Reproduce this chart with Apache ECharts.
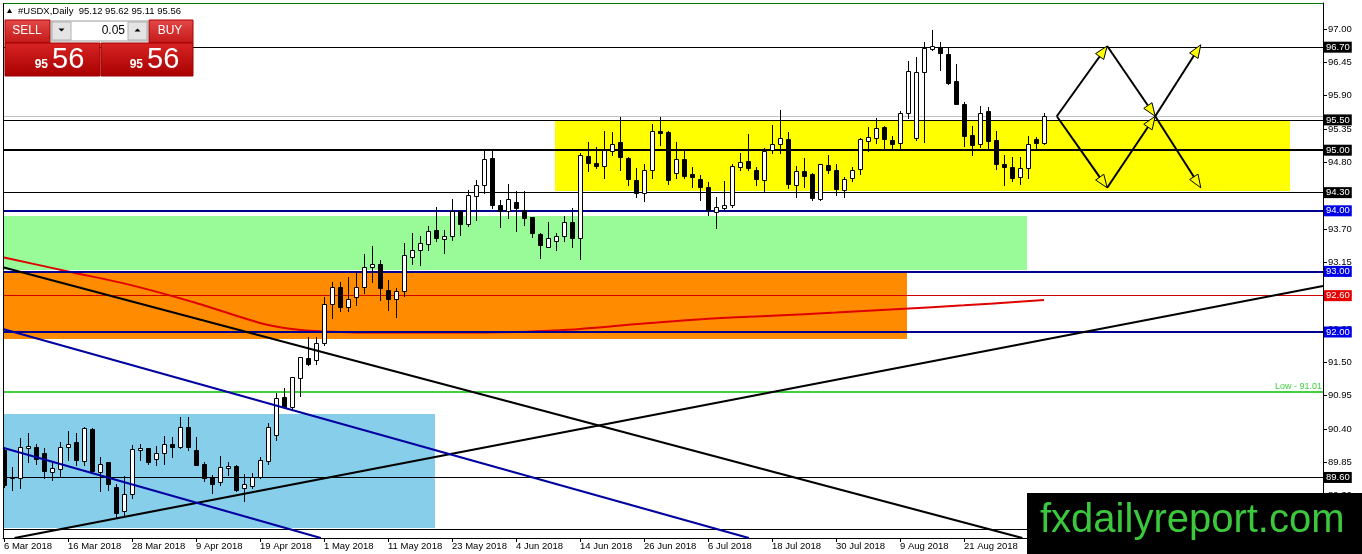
<!DOCTYPE html>
<html><head><meta charset="utf-8">
<script src="https://cdn.jsdelivr.net/npm/echarts@6.0.0/dist/echarts.min.js"></script>
<style>html,body{margin:0;padding:0;background:#fff;overflow:hidden}#chart{width:1362px;height:554px}</style>
</head><body><div id="chart"></div>
<script>
// ---- Daily bars (#USDX), one per trading day starting 6 Mar 2018 ----
const opens = [90.05,89.59,89.59,90.09,90.10,90.00,89.69,89.74,90.11,90.18,
89.87,90.40,89.69,89.85,89.45,89.04,89.32,90.06,90.08,89.90,
90.01,90.16,90.11,90.44,90.05,89.83,89.61,89.52,89.76,89.79,
89.42,89.46,89.61,89.87,90.30,90.92,90.77,91.24,91.57,91.53,
91.82,92.46,92.75,92.42,92.58,92.75,93.08,93.12,92.70,92.54,
92.68,93.24,93.36,93.46,93.68,93.53,93.58,94.00,93.78,94.25,
94.43,94.87,94.10,93.99,94.15,94.01,93.89,93.62,93.41,93.50,
93.58,93.81,93.55,94.90,94.79,94.74,94.98,95.13,94.87,94.51,
94.30,94.68,95.32,95.30,94.62,94.85,94.61,94.53,94.39,93.98,
94.05,94.10,94.72,94.82,94.68,94.51,95.00,95.11,95.18,94.43,
94.66,94.61,94.19,94.75,94.67,94.34,94.54,94.69,95.16,95.20,
95.38,95.17,95.12,95.62,95.20,96.29,96.67,96.71,96.59,96.14,
95.76,95.25,95.11,95.65,95.17,94.78,94.72,94.55,94.70,95.19,
95.12];
const highs = [90.10,89.78,90.25,90.34,90.16,90.08,89.86,90.19,90.37,90.34,
90.44,90.41,89.94,89.86,89.50,89.63,90.14,90.16,90.09,90.12,
90.29,90.26,90.59,90.59,90.27,89.86,89.64,89.95,89.86,89.80,
89.65,89.67,89.94,90.50,91.00,91.07,91.26,91.59,91.92,91.92,
92.58,92.83,92.83,92.91,92.97,93.29,93.42,93.19,92.85,92.72,
93.47,93.63,93.58,93.75,94.06,93.68,94.19,94.01,94.34,94.51,
95.00,95.00,94.18,94.45,94.32,94.32,93.90,93.64,93.82,93.64,
93.91,94.05,94.95,95.14,95.06,95.32,95.30,95.55,94.89,94.70,
94.78,95.43,95.55,95.31,95.14,94.98,94.73,94.59,94.48,94.22,
94.50,94.78,94.95,95.27,94.73,95.03,95.42,95.66,95.30,94.74,
94.87,94.62,94.78,94.92,94.77,94.56,94.72,95.20,95.38,95.53,
95.40,95.23,95.64,96.48,96.53,96.79,96.99,96.78,96.68,96.42,
95.80,95.40,95.73,95.71,95.32,94.92,94.89,94.89,95.23,95.22,
95.62];
const lows = [89.45,89.40,89.42,89.86,89.83,89.59,89.56,89.61,89.89,89.80,
89.81,89.67,89.38,89.39,88.95,88.95,89.26,89.89,89.83,89.81,
89.83,89.94,90.08,90.05,89.80,89.54,89.34,89.48,89.64,89.37,
89.21,89.42,89.59,89.83,90.22,90.74,90.74,90.94,91.46,91.48,
91.79,92.23,92.34,92.34,92.45,92.64,92.83,92.53,92.36,92.25,
92.59,93.13,93.11,93.35,93.51,93.30,93.52,93.60,93.75,93.85,
94.29,94.04,93.73,93.88,93.66,93.77,93.57,93.22,93.40,93.35,
93.50,93.40,93.20,94.65,94.70,94.54,94.92,94.67,94.43,94.22,
94.17,94.54,95.08,94.45,94.54,94.54,94.39,94.18,93.93,93.71,
94.01,94.07,94.67,94.67,94.43,94.32,94.96,94.95,94.37,94.23,
94.40,94.18,94.18,94.63,94.26,94.22,94.50,94.61,94.98,95.12,
95.03,95.00,95.03,95.53,95.17,95.14,96.65,96.32,96.10,95.76,
95.07,94.92,95.05,95.03,94.69,94.43,94.50,94.45,94.54,95.03,
95.11];
const closes = [89.48,89.60,90.11,90.12,89.90,89.70,89.75,90.11,90.16,89.89,
90.41,89.70,89.83,89.49,89.01,89.33,90.07,90.08,89.86,90.01,
90.16,90.11,90.43,90.11,89.81,89.59,89.50,89.77,89.79,89.40,
89.49,89.60,89.88,90.43,90.91,90.77,91.25,91.58,91.48,91.82,
92.46,92.74,92.42,92.55,92.75,93.07,93.12,92.72,92.55,92.67,
93.27,93.36,93.47,93.67,93.55,93.59,94.00,93.78,94.26,94.43,
94.85,94.10,93.99,94.19,94.04,93.88,93.63,93.44,93.55,93.58,
93.82,93.55,94.92,94.79,94.74,95.00,95.11,94.88,94.53,94.29,
94.67,95.32,95.28,94.51,94.85,94.57,94.55,94.39,94.02,94.07,
94.10,94.74,94.80,94.70,94.52,94.99,95.11,95.20,94.45,94.65,
94.58,94.21,94.77,94.67,94.36,94.52,94.68,95.18,95.21,95.36,
95.18,95.11,95.61,96.31,96.29,96.68,96.72,96.60,96.11,95.77,
95.24,95.09,95.62,95.16,94.77,94.73,94.54,94.70,95.11,95.12,
95.56];

// ---- Moving average (red curve): [bar index, value] ----
const maBars   = [0, 8, 16, 24, 32, 36, 40, 48, 56, 64, 68, 72, 80, 88, 96, 104, 112, 120, 130];
const maValues = [93.23, 93.00, 92.77, 92.48, 92.15, 92.05, 92.01, 91.99, 91.99, 92.00, 92.02, 92.05, 92.14, 92.22, 92.27, 92.32, 92.38, 92.44, 92.53];

// ---- Axis ticks ----
const xTickBars   = [0, 8, 16, 24, 32, 40, 48, 56, 64, 72, 80, 88, 96, 104, 112, 120];
const xTickLabels = ['6 Mar 2018','16 Mar 2018','28 Mar 2018','9 Apr 2018','19 Apr 2018','1 May 2018','11 May 2018','23 May 2018','4 Jun 2018','14 Jun 2018','26 Jun 2018','6 Jul 2018','18 Jul 2018','30 Jul 2018','9 Aug 2018','21 Aug 2018'];
const yTickValues = [97.00, 96.45, 95.90, 95.35, 94.80, 94.25, 93.70, 93.15, 92.60, 92.05, 91.50, 90.95, 90.40, 89.85, 89.30];

// ---- Horizontal price levels ----
const levelValues = [96.70, 95.56, 95.50, 95.00, 94.30, 94.00, 93.00, 92.60, 92.00, 91.01, 89.60, 88.75];
const levelLabels = ['96.70', '', '95.50', '95.00', '94.30', '94.00', '93.00', '92.60', '92.00', 'Low - 91.01', '89.60', '88.75'];
const levelKinds  = ['black', 'bid', 'black', 'blackBold', 'black', 'blue', 'blue', 'red', 'blue', 'green', 'black', 'black'];

// ---- Rectangles (zones): bar-index span and price span ----
const zoneColors = ['#87ceeb', '#ff8c00', '#98fb98', '#ffff00'];
const zoneFrom   = [-0.125, -0.125, -0.125, 68.9];
const zoneTo     = [53.9, 112.9, 127.9, 160.75];
const zoneTop    = [90.65, 92.97, 93.92, 95.50];
const zoneBottom = [88.76, 91.88, 93.03, 94.32];

// ---- Trend lines: [bar, price] -> [bar, price] ----
const trendFrom  = [[-0.125, 93.07], [1.31, 88.60], [-0.125, 92.05], [-0.125, 90.09]];
const trendTo    = [[127.3, 88.60], [164.875, 92.76], [93.1, 88.60], [39.6, 88.60]];
const trendColor = ['#000000', '#000000', '#0000a0', '#0000a0'];

// ---- Scenario arrows: [bar, price] -> [bar, price] ----
const arrowFrom = [[131.6, 95.56], [137.9, 96.72], [143.9, 95.56], [131.6, 95.56], [137.9, 94.38], [143.9, 95.56]];
const arrowTo   = [[137.9, 96.72], [143.9, 95.56], [149.6, 96.74], [137.9, 94.38], [143.9, 95.56], [149.6, 94.38]];

const FONT = 'Liberation Sans';
const chart = echarts.init(document.getElementById('chart'), null, {renderer: 'canvas'});

const kindStyle = {
  black:     {line: {color: '#000000', width: 1}, bg: '#000000'},
  blackBold: {line: {color: '#000000', width: 2}, bg: '#000000'},
  bid:       {line: {color: '#c0c0c0', width: 1}, bg: null},
  blue:      {line: {color: '#000090', width: 2}, bg: '#0000e6'},
  red:       {line: {color: '#d00000', width: 1}, bg: '#e60000'},
  green:     {line: {color: '#40d040', width: 2}, bg: null}
};

const levelData = levelValues.map((v, k) => {
  const st = kindStyle[levelKinds[k]];
  let label;
  if (levelKinds[k] === 'green') {
    label = {show: true, position: 'insideEndTop', distance: 1, formatter: levelLabels[k], color: '#40d040', fontFamily: FONT, fontSize: 9};
  } else if (st.bg) {
    label = {show: true, position: 'end', distance: 1, formatter: levelLabels[k], color: '#ffffff', backgroundColor: st.bg, padding: [1, 2, 0, 2], fontFamily: FONT, fontSize: 9.5};
  } else {
    label = {show: false};
  }
  return {yAxis: v, lineStyle: {color: st.line.color, width: st.line.width, type: 'solid'}, label};
});

const candleData = opens.map((o, k) => [k, o, highs[k], lows[k], closes[k]]);
const zoneData = zoneColors.map((c, k) => [zoneFrom[k], zoneTop[k], zoneTo[k], zoneBottom[k], k]);
const trendData = trendFrom.map((p, k) => ({coords: [p, trendTo[k]], lineStyle: {color: trendColor[k]}}));
const arrowData = arrowFrom.map((p, k) => [p[0], p[1], arrowTo[k][0], arrowTo[k][1]]);
const maData = maBars.map((b, k) => [b, maValues[k]]);

const option = {
  animation: false,
  backgroundColor: '#ffffff',
  grid: {left: 3, right: 39, top: 3, bottom: 16, containLabel: false},
  xAxis: {
    type: 'value', min: -0.125, max: 164.875,
    splitLine: {show: false},
    axisLine: {show: true, onZero: false, lineStyle: {color: '#000', width: 1}},
    axisTick: {show: true, customValues: xTickBars, length: 4, lineStyle: {color: '#000'}},
    axisLabel: {show: true, customValues: xTickBars, align: 'left', margin: 3, color: '#000', fontFamily: FONT, fontSize: 9.5,
      formatter: v => xTickLabels[xTickBars.indexOf(Math.round(v))] || ''}
  },
  yAxis: {
    type: 'value', position: 'right', min: 88.601, max: 97.429, scale: true,
    splitLine: {show: false},
    axisLine: {show: true, onZero: false, lineStyle: {color: '#000', width: 1}},
    axisTick: {show: true, customValues: yTickValues, length: 4, lineStyle: {color: '#000'}},
    axisLabel: {show: true, customValues: yTickValues, margin: 5, color: '#000', fontFamily: FONT, fontSize: 9.5,
      formatter: v => v.toFixed(2)}
  },
  series: [
    { // zones
      type: 'custom', z: 1, silent: true, clip: true, data: zoneData,
      renderItem: (params, api) => {
        const p1 = api.coord([api.value(0), api.value(1)]);
        const p2 = api.coord([api.value(2), api.value(3)]);
        return {type: 'rect', shape: {x: Math.round(p1[0]), y: Math.round(p1[1]), width: Math.round(p2[0]) - Math.round(p1[0]), height: Math.round(p2[1]) - Math.round(p1[1])},
          style: {fill: zoneColors[api.value(4)]}};
      }
    },
    { // price levels
      type: 'line', z: 3, silent: true, data: [],
      markLine: {silent: true, symbol: ['none', 'none'], animation: false, data: levelData}
    },
    { // moving average
      type: 'line', z: 4, silent: true, data: maData, smooth: 0.4, showSymbol: false,
      lineStyle: {color: '#e00000', width: 2}
    },
    { // candles
      type: 'custom', z: 5, silent: true, clip: true, data: candleData,
      renderItem: (params, api) => {
        const i = api.value(0), o = api.value(1), h = api.value(2), l = api.value(3), c = api.value(4);
        const pO = api.coord([i, o]), pC = api.coord([i, c]), pH = api.coord([i, h]), pL = api.coord([i, l]);
        const x = Math.floor(pO[0]) + 0.5;
        const top = Math.round(Math.min(pO[1], pC[1])), bot = Math.round(Math.max(pO[1], pC[1]));
        const up = c >= o;
        return {type: 'group', children: [
          {type: 'line', shape: {x1: x, y1: Math.round(pH[1]), x2: x, y2: Math.round(pL[1]) + 1}, style: {stroke: '#000', lineWidth: 1}},
          {type: 'rect', shape: {x: x - 2, y: top + 0.5, width: 4, height: Math.max(1, bot - top)}, style: {fill: up ? '#fff' : '#000', stroke: '#000', lineWidth: 1}}
        ]};
      }
    },
    { // trend lines
      type: 'lines', coordinateSystem: 'cartesian2d', z: 6, silent: true, data: trendData,
      lineStyle: {width: 2, opacity: 1}
    },
    { // arrows
      type: 'custom', z: 7, silent: true, data: arrowData,
      renderItem: (params, api) => {
        const p1 = api.coord([api.value(0), api.value(1)]);
        const p2 = api.coord([api.value(2), api.value(3)]);
        const dx = p2[0] - p1[0], dy = p2[1] - p1[1];
        const len = Math.hypot(dx, dy), ux = dx / len, uy = dy / len;
        const L = 13, W = 5;
        const bx = p2[0] - ux * L, by = p2[1] - uy * L;
        return {type: 'group', children: [
          {type: 'line', shape: {x1: p1[0], y1: p1[1], x2: bx, y2: by}, style: {stroke: '#000', lineWidth: 2}},
          {type: 'polygon', shape: {points: [[p2[0], p2[1]], [bx - uy * W, by + ux * W], [bx + uy * W, by - ux * W]]}, style: {fill: '#ffff00', stroke: '#000', lineWidth: 1}}
        ]};
      }
    }
  ],
  graphic: [
    // frame top and left
    {type: 'line', z: 50, shape: {x1: 3, y1: 3.5, x2: 1323, y2: 3.5}, style: {stroke: '#007a00', lineWidth: 1}},
    {type: 'line', z: 50, shape: {x1: 3.5, y1: 3, x2: 3.5, y2: 538}, style: {stroke: '#000', lineWidth: 1}},
    // header
    {type: 'polygon', z: 60, shape: {points: [[7, 13], [12, 13], [9.5, 8.5]]}, style: {fill: '#000'}},
    {type: 'text', z: 60, x: 18, y: 11, style: {text: '#USDX,Daily  95.12 95.62 95.11 95.56', fill: '#000', font: '9.5px "Liberation Sans"', textVerticalAlign: 'middle'}},
    // one-click trading panel
    {type: 'rect', z: 60, shape: {x: 5, y: 20, width: 45, height: 23}, style: {fill: new echarts.graphic.LinearGradient(0, 0, 0, 1, [{offset: 0, color: '#e44848'}, {offset: 1, color: '#c41818'}]), stroke: '#b00000', lineWidth: 1}},
    {type: 'rect', z: 60, shape: {x: 149, y: 20, width: 44, height: 23}, style: {fill: new echarts.graphic.LinearGradient(0, 0, 0, 1, [{offset: 0, color: '#e44848'}, {offset: 1, color: '#c41818'}]), stroke: '#b00000', lineWidth: 1}},
    {type: 'rect', z: 60, shape: {x: 5, y: 43, width: 95, height: 33}, style: {fill: new echarts.graphic.LinearGradient(0, 0, 0, 1, [{offset: 0, color: '#d82424'}, {offset: 1, color: '#a80000'}]), stroke: '#a00000', lineWidth: 1}},
    {type: 'rect', z: 60, shape: {x: 101, y: 43, width: 92, height: 33}, style: {fill: new echarts.graphic.LinearGradient(0, 0, 0, 1, [{offset: 0, color: '#d82424'}, {offset: 1, color: '#a80000'}]), stroke: '#a00000', lineWidth: 1}},
    {type: 'rect', z: 60, shape: {x: 51, y: 21, width: 97, height: 20}, style: {fill: '#ffffff', stroke: '#9a9a9a', lineWidth: 1}},
    {type: 'rect', z: 61, shape: {x: 52, y: 22, width: 19, height: 18}, style: {fill: '#e4e4e4', stroke: '#b0b0b0', lineWidth: 1}},
    {type: 'rect', z: 61, shape: {x: 128, y: 22, width: 19, height: 18}, style: {fill: '#e4e4e4', stroke: '#b0b0b0', lineWidth: 1}},
    {type: 'polygon', z: 62, shape: {points: [[58.5, 28.5], [64.5, 28.5], [61.5, 31.5]]}, style: {fill: '#000'}},
    {type: 'polygon', z: 62, shape: {points: [[134.5, 31.5], [140.5, 31.5], [137.5, 28.5]]}, style: {fill: '#000'}},
    {type: 'text', z: 62, x: 125, y: 31, style: {text: '0.05', fill: '#000', font: '12px "Liberation Sans"', textAlign: 'right', textVerticalAlign: 'middle'}},
    {type: 'text', z: 62, x: 27, y: 31, style: {text: 'SELL', fill: '#fff', font: '12px "Liberation Sans"', textAlign: 'center', textVerticalAlign: 'middle'}},
    {type: 'text', z: 62, x: 170, y: 31, style: {text: 'BUY', fill: '#fff', font: '12px "Liberation Sans"', textAlign: 'center', textVerticalAlign: 'middle'}},
    {type: 'text', z: 62, x: 48, y: 65, style: {text: '95', fill: '#fff', font: 'bold 12px "Liberation Sans"', textAlign: 'right', textVerticalAlign: 'middle'}},
    {type: 'text', z: 62, x: 52, y: 60, style: {text: '56', fill: '#fff', font: '29px "Liberation Sans"', textAlign: 'left', textVerticalAlign: 'middle'}},
    {type: 'text', z: 62, x: 143, y: 65, style: {text: '95', fill: '#fff', font: 'bold 12px "Liberation Sans"', textAlign: 'right', textVerticalAlign: 'middle'}},
    {type: 'text', z: 62, x: 147, y: 60, style: {text: '56', fill: '#fff', font: '29px "Liberation Sans"', textAlign: 'left', textVerticalAlign: 'middle'}},
    // logo
    {type: 'rect', z: 70, shape: {x: 1027, y: 493, width: 335, height: 61}, style: {fill: '#000'}},
    {type: 'text', z: 71, x: 1040, y: 521, style: {text: 'fxdailyreport.com', fill: '#3cc83c', font: '40px "Liberation Sans"', textVerticalAlign: 'middle'}}
  ]
};
chart.setOption(option);
</script>
</body></html>
